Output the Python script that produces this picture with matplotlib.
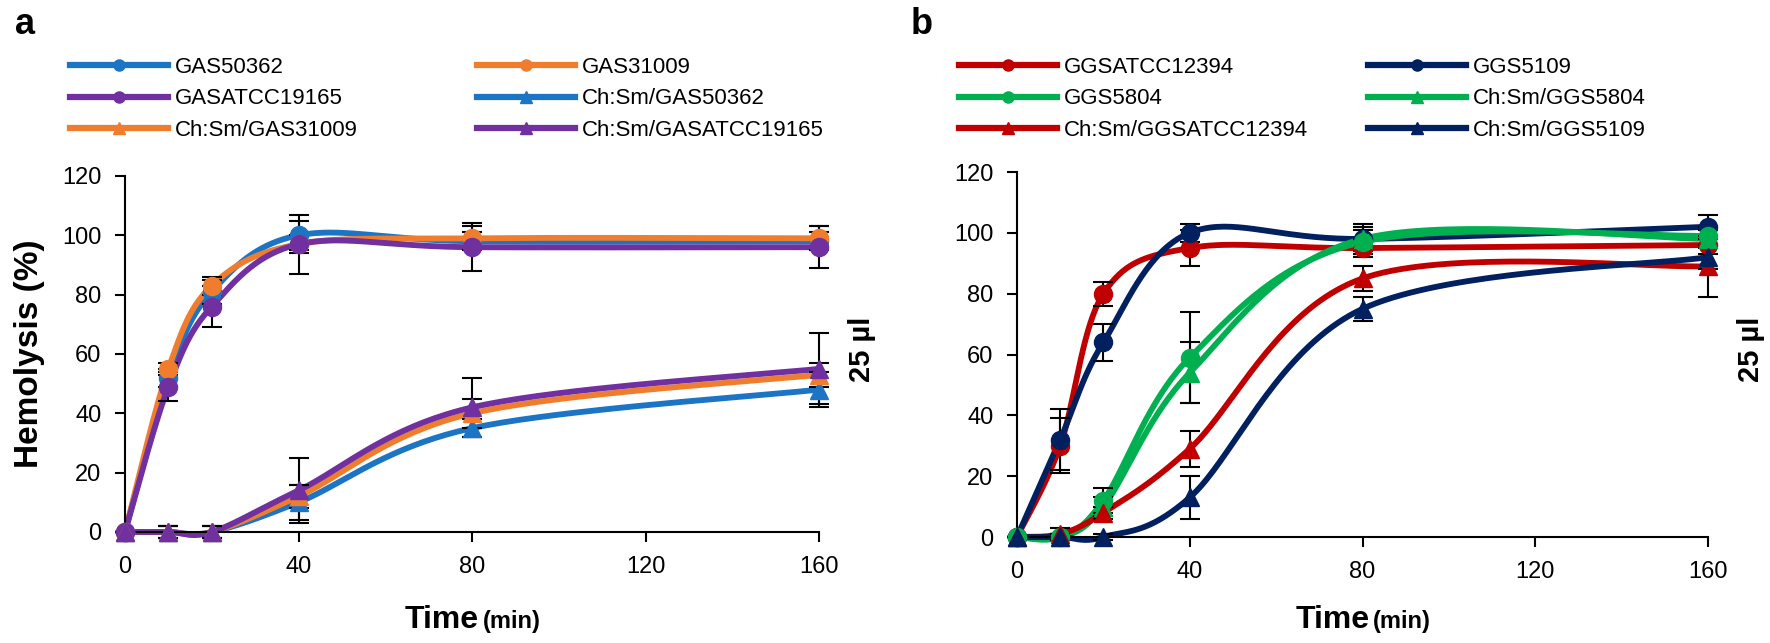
import numpy as np
import matplotlib
matplotlib.use("Agg")
import matplotlib.pyplot as plt
from matplotlib.lines import Line2D

plt.rcParams['font.family'] = ['Liberation Sans', 'DejaVu Sans']

time_min = [0, 10, 20, 40, 80, 160]
x_ticks = [0, 40, 80, 120, 160]
y_ticks = [0, 20, 40, 60, 80, 100, 120]

# panel a
a_labels = ['GAS50362', 'GAS31009', 'GASATCC19165',
            'Ch:Sm/GAS50362', 'Ch:Sm/GAS31009', 'Ch:Sm/GASATCC19165']
a_colors = ['#1b75c4', '#f07d2e', '#7030a0', '#1b75c4', '#f07d2e', '#7030a0']
a_markers = ['o', 'o', 'o', '^', '^', '^']
a_gas50362 = [0, 52, 81, 100, 98, 98]
a_gas31009 = [0, 55, 83, 97, 99, 99]
a_gasatcc19165 = [0, 49, 76, 97, 96, 96]
a_chsm_gas50362 = [0, 0, 0, 10, 35, 48]
a_chsm_gas31009 = [0, 0, 0, 12, 40, 53]
a_chsm_gasatcc19165 = [0, 0, 0, 14, 42, 55]
a_err_gas50362 = [0, 3, 4, 5, 3, 3]
a_err_gas31009 = [0, 2, 3, 3, 4, 4]
a_err_gasatcc19165 = [0, 5, 7, 10, 8, 7]
a_err_chsm_gas50362 = [0, 2, 2, 6, 3, 6]
a_err_chsm_gas31009 = [0, 2, 2, 4, 5, 4]
a_err_chsm_gasatcc19165 = [0, 2, 2, 11, 10, 12]

# panel b
b_labels = ['GGSATCC12394', 'GGS5109', 'GGS5804',
            'Ch:Sm/GGS5804', 'Ch:Sm/GGSATCC12394', 'Ch:Sm/GGS5109']
b_colors = ['#c00000', '#002060', '#00b050', '#00b050', '#c00000', '#002060']
b_markers = ['o', 'o', 'o', '^', '^', '^']
b_ggsatcc12394 = [0, 30, 80, 95, 95, 96]
b_ggs5109 = [0, 32, 64, 100, 98, 102]
b_ggs5804 = [0, 0, 12, 59, 97, 99]
b_chsm_ggs5804 = [0, 0, 10, 54, 98, 98]
b_chsm_ggsatcc12394 = [0, 1, 8, 29, 85, 89]
b_chsm_ggs5109 = [0, 0, 0, 13, 75, 92]
b_err_ggsatcc12394 = [0, 9, 4, 6, 3, 3]
b_err_ggs5109 = [0, 10, 6, 3, 5, 4]
b_err_ggs5804 = [0, 1, 4, 15, 4, 3]
b_err_chsm_ggs5804 = [0, 1, 3, 10, 4, 3]
b_err_chsm_ggsatcc12394 = [0, 2, 2, 6, 4, 10]
b_err_chsm_ggs5109 = [0, 1, 1, 7, 4, 4]

a_values = [a_gas50362, a_gas31009, a_gasatcc19165,
            a_chsm_gas50362, a_chsm_gas31009, a_chsm_gasatcc19165]
a_errors = [a_err_gas50362, a_err_gas31009, a_err_gasatcc19165,
            a_err_chsm_gas50362, a_err_chsm_gas31009, a_err_chsm_gasatcc19165]
b_values = [b_ggsatcc12394, b_ggs5109, b_ggs5804,
            b_chsm_ggs5804, b_chsm_ggsatcc12394, b_chsm_ggs5109]
b_errors = [b_err_ggsatcc12394, b_err_ggs5109, b_err_ggs5804,
            b_err_chsm_ggs5804, b_err_chsm_ggsatcc12394, b_err_chsm_ggs5109]

W, H = 1770, 643
fig = plt.figure(figsize=(W / 100, H / 100), dpi=100)


def smooth(ax, x, y, n=40):
    # excel style smoothed line, bezier through the points in screen space
    pts = ax.transData.transform(np.column_stack([x, y]))
    P = np.vstack([pts[0], pts, pts[-1]])
    t = np.linspace(0, 1, n)[:, None]
    segs = []
    for i in range(1, len(P) - 2):
        p0, p1, p2, p3 = P[i - 1], P[i], P[i + 1], P[i + 2]
        c1 = p1 + (p2 - p0) / 6
        c2 = p2 - (p3 - p1) / 6
        segs.append((1 - t) ** 3 * p1 + 3 * (1 - t) ** 2 * t * c1
                    + 3 * (1 - t) * t ** 2 * c2 + t ** 3 * p2)
    out = ax.transData.inverted().transform(np.vstack(segs))
    return out[:, 0], out[:, 1]


def panel(box, labels, colors, markers, values, errors, letter, letter_x,
          leg_x1, leg_x2):
    l, b, r, t = box
    ax = fig.add_axes([l / W, 1 - b / H, (r - l) / W, (b - t) / H])
    ax.set_xlim(0, 160)
    ax.set_ylim(0, 120)
    for s in ['top', 'right']:
        ax.spines[s].set_visible(False)
    for s in ['left', 'bottom']:
        ax.spines[s].set_linewidth(1.5)
    ax.set_xticks(x_ticks)
    ax.set_yticks(y_ticks)
    ax.tick_params(direction='out', length=7, width=1.5, labelsize=17, pad=10)
    handles = []
    for lab, c, m, v, e in zip(labels, colors, markers, values, errors):
        sx, sy = smooth(ax, time_min, v)
        ax.plot(sx, sy, color=c, lw=4.2, solid_capstyle='round', zorder=2,
                clip_on=False)
        ax.errorbar(time_min, v, yerr=e, fmt='none', ecolor='black',
                    elinewidth=1.5, capsize=7, capthick=1.5, zorder=3,
                    clip_on=False)
        ax.plot(time_min, v, ls='none', marker=m, ms=13, color=c, zorder=4,
                clip_on=False)
        handles.append(Line2D([], [], color=c, lw=4.5, marker=m, ms=8))
    # legend, two columns filled row by row
    leg_top = 1 - 57 / H
    for k, lx in enumerate([leg_x1, leg_x2]):
        idx = [k, k + 2, k + 4]
        fig.legend([handles[i] for i in idx], [labels[i] for i in idx],
                   loc='upper left', bbox_to_anchor=(lx / W, leg_top),
                   frameon=False, fontsize=16, handlelength=4.4,
                   handletextpad=0.3, labelspacing=0.47, borderpad=0,
                   borderaxespad=0)
    # axis titles
    cx = (l + r) / 2 / W
    fig.text(cx + 0.004, 1 - 628 / H, 'Time', fontsize=23, fontweight='bold',
             ha='right', va='baseline')
    fig.text(cx + 0.006, 1 - 628 / H, '(min)', fontsize=17, fontweight='bold',
             ha='left', va='baseline')
    fig.text((r + 43) / W, 1 - 349 / H, '25 µl', fontsize=21,
             fontweight='bold', rotation=90, ha='center', va='center')
    fig.text(letter_x / W, 1 - 24 / H, letter, fontsize=26,
             fontweight='bold', ha='center', va='center')
    return ax


ax_a = panel((125, 532, 819, 176), a_labels, a_colors, a_markers, a_values,
             a_errors, 'a', 25, 70, 477)
ax_a.set_ylabel('Hemolysis (%)', fontsize=24, fontweight='bold', labelpad=12)

ax_b = panel((1017, 537, 1708, 172), b_labels, b_colors, b_markers, b_values,
             b_errors, 'b', 922, 959, 1368)

fig.savefig('out.png', dpi=100)
